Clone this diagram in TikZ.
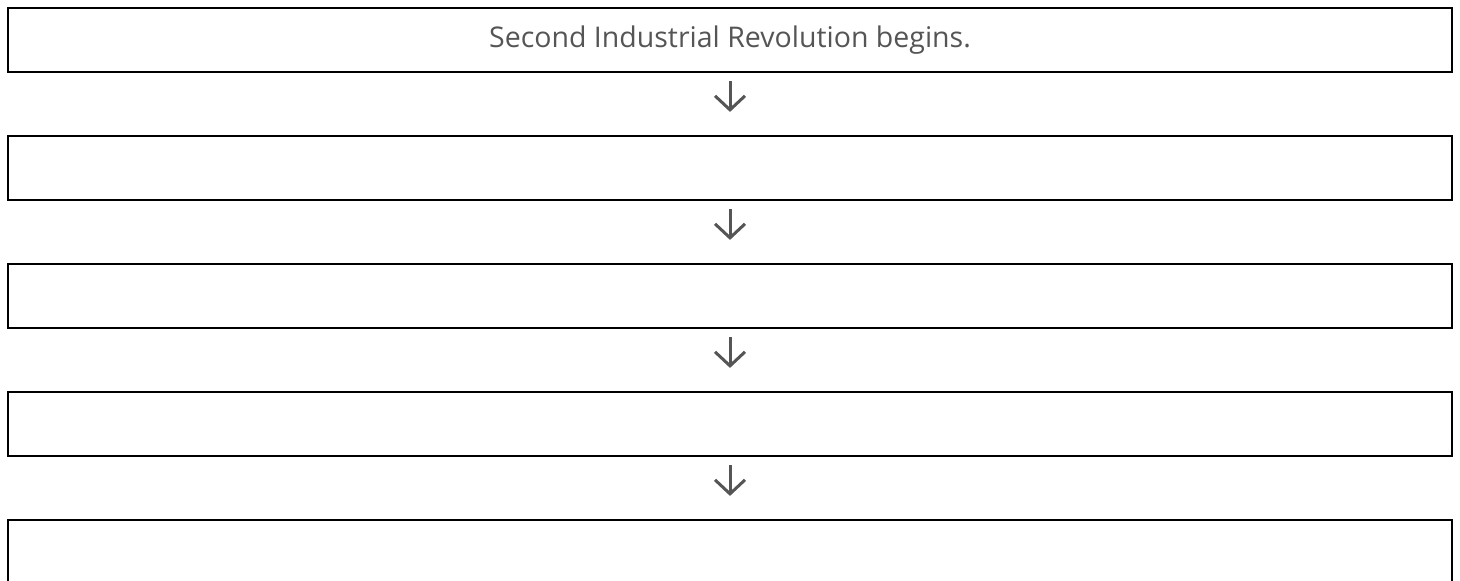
\documentclass[tikz,border=0pt]{standalone}
\usepackage{fontspec}
\setmainfont{Open Sans}
\usetikzlibrary{arrows.meta}
\definecolor{textgray}{HTML}{555555}
\tikzset{
  stepbox/.style={draw=black, line width=2.2pt, minimum width=1444pt,
    minimum height=64pt, inner sep=0pt, text=textgray,
    font=\fontsize{28.5}{34}\selectfont},
  flowarrow/.style={draw=textgray, line width=3pt,
    -{Straight Barb[length=14pt, width=30pt, line width=3pt]},
    shorten <=8pt, shorten >=23pt}
}
\begin{document}
\begin{tikzpicture}[x=1pt, y=1pt]
                \useasboundingbox (0,0) rectangle (1460,-581);

                % Nodes
                \node at (730,-40) (b1) [stepbox] {Second Industrial Revolution begins.};
                \node at (730,-168) (b2) [stepbox] {};
                \node at (730,-296) (b3) [stepbox] {};
                \node at (730,-424) (b4) [stepbox] {};
                \node at (730,-552) (b5) [stepbox] {};

                % Arrows
                \draw[flowarrow] (b1) -- (b2);
                \draw[flowarrow] (b2) -- (b3);
                \draw[flowarrow] (b3) -- (b4);
                \draw[flowarrow] (b4) -- (b5);
            \end{tikzpicture}
\end{document}
